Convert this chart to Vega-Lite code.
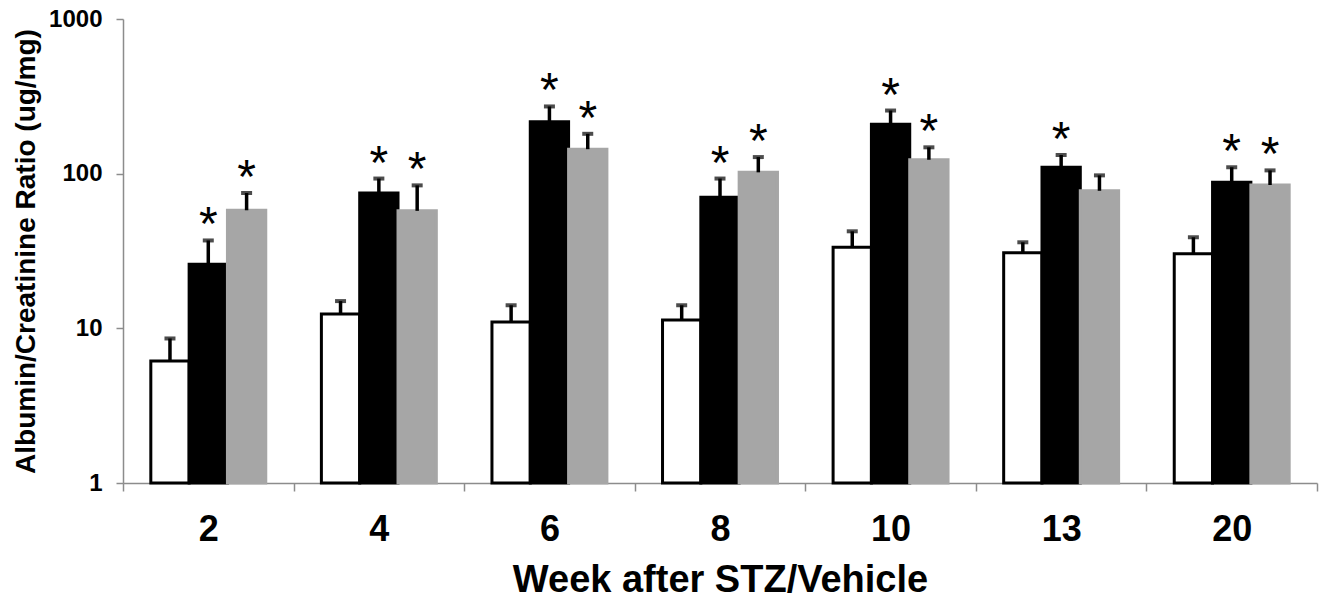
{
  "$schema": "https://vega.github.io/schema/vega-lite/v6.json",
  "width": 1194,
  "height": 464,
  "autosize": {"type": "none"},
  "padding": {"left": 123, "top": 19, "right": 9, "bottom": 119},
  "background": "white",
  "config": {
    "view": {"stroke": null},
    "font": "Liberation Sans"
  },
  "data": {
    "values": [
      {"week": "2", "group": "Vehicle", "value": 6.15, "err": 8.6, "sig": false},
      {"week": "2", "group": "STZ", "value": 26, "err": 37, "sig": true},
      {"week": "2", "group": "STZ treated", "value": 58, "err": 75, "sig": true},
      {"week": "4", "group": "Vehicle", "value": 12.4, "err": 15.0, "sig": false},
      {"week": "4", "group": "STZ", "value": 75, "err": 93, "sig": true},
      {"week": "4", "group": "STZ treated", "value": 57.5, "err": 84, "sig": true},
      {"week": "6", "group": "Vehicle", "value": 11.0, "err": 14.1, "sig": false},
      {"week": "6", "group": "STZ", "value": 217, "err": 272, "sig": true},
      {"week": "6", "group": "STZ treated", "value": 144, "err": 181, "sig": true},
      {"week": "8", "group": "Vehicle", "value": 11.3, "err": 14.1, "sig": false},
      {"week": "8", "group": "STZ", "value": 70.5, "err": 93, "sig": true},
      {"week": "8", "group": "STZ treated", "value": 102, "err": 128, "sig": true},
      {"week": "10", "group": "Vehicle", "value": 33.5, "err": 42.4, "sig": false},
      {"week": "10", "group": "STZ", "value": 209, "err": 256, "sig": true},
      {"week": "10", "group": "STZ treated", "value": 123, "err": 148, "sig": true},
      {"week": "13", "group": "Vehicle", "value": 30.8, "err": 36, "sig": false},
      {"week": "13", "group": "STZ", "value": 110, "err": 132, "sig": true},
      {"week": "13", "group": "STZ treated", "value": 77.5, "err": 97.5, "sig": false},
      {"week": "20", "group": "Vehicle", "value": 30.3, "err": 38.8, "sig": false},
      {"week": "20", "group": "STZ", "value": 88, "err": 110, "sig": true},
      {"week": "20", "group": "STZ treated", "value": 84.5, "err": 105, "sig": true}
    ]
  },
  "encoding": {
    "x": {
      "field": "week",
      "type": "nominal",
      "sort": null,
      "scale": {"paddingInner": 0, "paddingOuter": 0},
      "axis": {
        "title": "Week after STZ/Vehicle",
        "labelAngle": 0,
        "labelFontSize": 36,
        "labelFontWeight": "bold",
        "labelColor": "black",
        "labelPadding": 21,
        "titleFontSize": 38,
        "titleFontWeight": "bold",
        "titleColor": "black",
        "titlePadding": 14,
        "tickBand": "extent",
        "tickSize": 8,
        "tickColor": "#8c8c8c",
        "tickWidth": 1.5,
        "domainColor": "#8c8c8c",
        "domainWidth": 1.5
      }
    },
    "xOffset": {
      "field": "group",
      "type": "nominal",
      "sort": ["Vehicle", "STZ", "STZ treated"],
      "scale": {"paddingInner": 0, "paddingOuter": 0.726}
    }
  },
  "layer": [
    {
      "mark": {"type": "bar", "strokeWidth": 3},
      "encoding": {
        "y": {
          "field": "value",
          "type": "quantitative",
          "scale": {"type": "log", "domain": [1, 1000], "nice": false},
          "axis": {
            "title": "Albumin/Creatinine Ratio (ug/mg)",
            "values": [1, 10, 100, 1000],
            "format": "d",
            "grid": false,
            "labelFontSize": 24,
            "labelFontWeight": "bold",
            "labelColor": "black",
            "labelPadding": 14,
            "titleFontSize": 28,
            "titleFontWeight": "bold",
            "titleColor": "black",
            "titlePadding": 8,
            "tickSize": 7,
            "tickColor": "#8c8c8c",
            "tickWidth": 1.5,
            "domainColor": "#8c8c8c",
            "domainWidth": 1.5
          }
        },
        "y2": {"datum": 1},
        "color": {
          "field": "group",
          "type": "nominal",
          "scale": {"domain": ["Vehicle", "STZ", "STZ treated"], "range": ["white", "black", "#a6a6a6"]},
          "legend": null
        },
        "stroke": {
          "field": "group",
          "type": "nominal",
          "scale": {"domain": ["Vehicle", "STZ", "STZ treated"], "range": ["black", "black", "#a6a6a6"]},
          "legend": null
        }
      }
    },
    {
      "mark": {"type": "rule", "color": "black", "strokeWidth": 3.5},
      "encoding": {
        "y": {"field": "value", "type": "quantitative"},
        "y2": {"field": "err"}
      }
    },
    {
      "mark": {"type": "tick", "color": "black", "size": 11, "thickness": 4},
      "encoding": {
        "y": {"field": "err", "type": "quantitative"}
      }
    },
    {
      "transform": [{"filter": "datum.sig"}],
      "mark": {"type": "text", "text": "*", "fontSize": 48, "color": "black", "baseline": "alphabetic", "dy": 0},
      "encoding": {
        "y": {"field": "err", "type": "quantitative"}
      }
    }
  ]
}
